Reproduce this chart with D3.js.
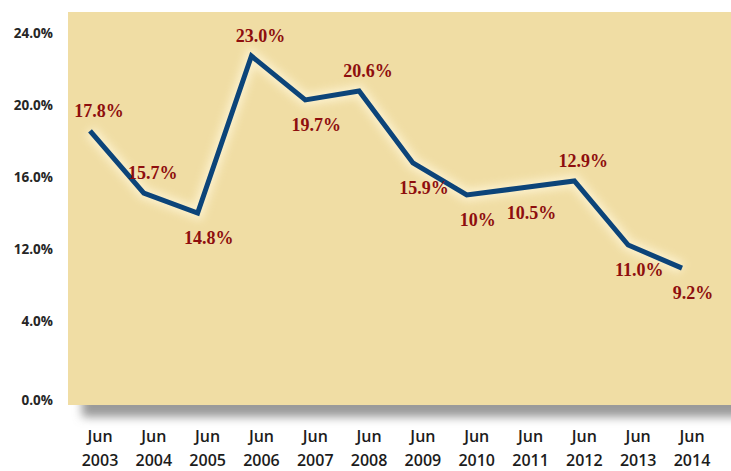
<!DOCTYPE html>
<html><head><meta charset="utf-8">
<script src="https://cdn.jsdelivr.net/npm/d3@7"></script>
<style>body{margin:0;background:#fff}svg{display:block}</style>
</head><body>
<svg id="c" width="731" height="471"></svg>
<script>
const categories = ["2003","2004","2005","2006","2007","2008","2009","2010","2011","2012","2013","2014"];
const values = [18.56, 15.11, 14.0, 22.72, 20.28, 20.78, 16.78, 15.0, 15.39, 15.78, 12.22, 10.94];
const valueLabels = ["17.8%","15.7%","14.8%","23.0%","19.7%","20.6%","15.9%","10%","10.5%","12.9%","11.0%","9.2%"];
const labelSide = ["above","above","below","above","below","above","below","below","below","above","below","below"];
const tickValues = [3.6, 8, 12, 16, 20, 24];
const tickLabels = ["0.0%","4.0%","12.0%","16.0%","20.0%","24.0%"];

const svg = d3.select("#c");
const panel = {x0: 68, x1: 731, y0: 12, y1: 405};

const x = d3.scalePoint().domain(categories).range([90, 682]);
const y = d3.scaleLinear().domain([24 - (panel.y1 - 33) / 18, 24 + (33 - panel.y0) / 18]).range([panel.y1, panel.y0]);

const defs = svg.append("defs");
const sh = defs.append("filter").attr("id","sh").attr("x","-10%").attr("y","-50%").attr("width","120%").attr("height","200%");
sh.append("feGaussianBlur").attr("stdDeviation", 5);
const gl = defs.append("filter").attr("id","gl").attr("x","-10%").attr("y","-10%").attr("width","120%").attr("height","120%");
gl.append("feGaussianBlur").attr("stdDeviation", 4);

// shadow under panel
svg.append("rect").attr("x", panel.x0 + 14).attr("y", panel.y1 - 14).attr("width", panel.x1 - panel.x0 + 20).attr("height", 26)
  .attr("fill", "#9a9a9a").attr("filter", "url(#sh)");
// panel
svg.append("rect").attr("x", panel.x0).attr("y", panel.y0).attr("width", panel.x1 - panel.x0).attr("height", panel.y1 - panel.y0)
  .attr("fill", "#F0DDA4");

// y axis
const yAxis = d3.axisLeft(y).tickValues(tickValues).tickSize(0).tickPadding(0)
  .tickFormat((d, i) => tickLabels[i]);
const ga = svg.append("g").attr("transform", "translate(53,0)").call(yAxis);
ga.select(".domain").remove();
ga.selectAll("text").attr("font-family", "'Open Sans', sans-serif").attr("font-weight", 700)
  .attr("font-size", 13.5).attr("fill", "#262626");

// x axis labels
const xg = svg.append("g");
categories.forEach((c, i) => {
  const t = xg.append("text").attr("x", x(c) + 10).attr("text-anchor", "middle")
    .attr("font-family", "'Open Sans', sans-serif").attr("font-weight", 600)
    .attr("font-size", 16).attr("fill", "#1c1c1c");
  t.append("tspan").attr("x", x(c) + 10).attr("y", 442).text("Jun");
  t.append("tspan").attr("x", x(c) + 10).attr("y", 466).text(c);
});

const line = d3.line().x((d, i) => x(categories[i])).y(d => y(d));
svg.append("path").datum(values).attr("d", line).attr("fill", "none")
  .attr("stroke", "#fff6d8").attr("stroke-width", 12).attr("stroke-linejoin", "miter")
  .attr("opacity", 0.8).attr("filter", "url(#gl)");
svg.append("path").datum(values).attr("d", line).attr("fill", "none")
  .attr("stroke", "#0C4479").attr("stroke-width", 5).attr("stroke-linejoin", "miter");

// data labels
svg.append("g").selectAll("text").data(values).join("text")
  .attr("x", (d, i) => x(categories[i]) + (labelSide[i] === "above" ? 9 : 11))
  .attr("y", (d, i) => y(d) + (labelSide[i] === "above" ? -14 : 31))
  .attr("text-anchor", "middle")
  .attr("font-family", "'Liberation Serif', serif").attr("font-weight", 700)
  .attr("font-size", 18).attr("fill", "#8E0E0E")
  .text((d, i) => valueLabels[i]);
</script>
</body></html>
